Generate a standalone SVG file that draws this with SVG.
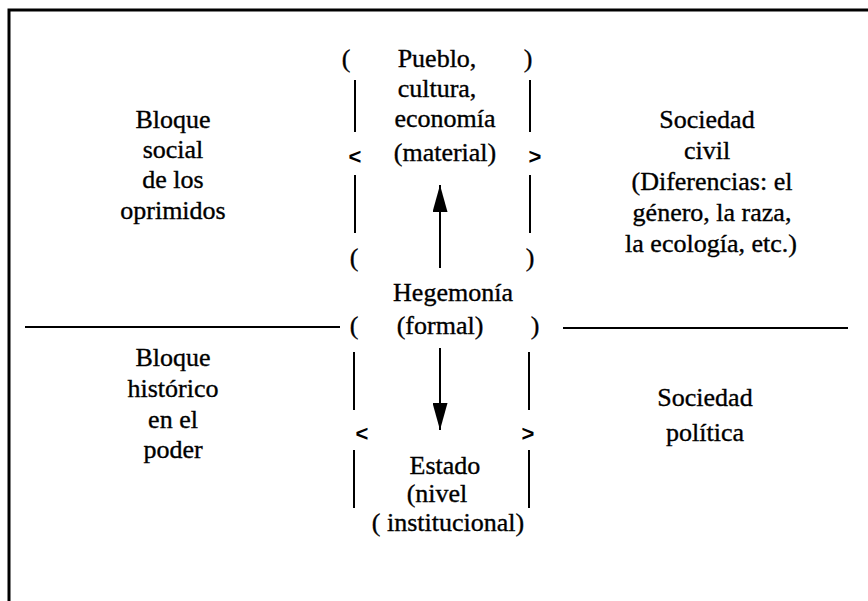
<svg xmlns="http://www.w3.org/2000/svg" width="868" height="601" viewBox="0 0 868 601">
<style>
.t{font-family:"Liberation Serif","Times New Roman",serif;font-size:26px;fill:#000;stroke:#000;stroke-width:0.35;text-anchor:middle}
.c{font-family:"Liberation Sans",Arial,sans-serif;font-size:22px;font-weight:bold;fill:#000;text-anchor:middle}
.b{stroke:#000;stroke-width:2;fill:none}
.f{stroke:#000;stroke-width:3;fill:none}
</style>
<defs>
<marker id="ah" viewBox="0 0 27 15" refX="27" refY="7.5" markerWidth="27" markerHeight="15" markerUnits="userSpaceOnUse" orient="auto">
<path d="M0,0 L27,7.5 L0,15 Z" fill="#000"/>
</marker>
</defs>
<g id="frame">
<path class="f" d="M9,601 V10 H868"/>
</g>
<g id="bloque-social">
<text class="t" x="173" y="128">Bloque</text>
<text class="t" x="173" y="158">social</text>
<text class="t" x="173" y="188">de los</text>
<text class="t" x="173" y="219">oprimidos</text>
</g>
<g id="bloque-historico">
<text class="t" x="173" y="366">Bloque</text>
<text class="t" x="173" y="397">histórico</text>
<text class="t" x="173" y="428">en el</text>
<text class="t" x="173" y="458">poder</text>
</g>
<g id="sociedad-civil">
<text class="t" x="707" y="128">Sociedad</text>
<text class="t" x="707" y="159">civil</text>
<text class="t" x="712" y="190">(Diferencias: el</text>
<text class="t" x="712" y="221">género, la raza,</text>
<text class="t" x="711" y="252">la ecología, etc.)</text>
</g>
<g id="sociedad-politica">
<text class="t" x="705" y="406">Sociedad</text>
<text class="t" x="705" y="441">política</text>
</g>
<g id="pueblo">
<text class="t" x="346" y="67">(</text>
<text class="t" x="528" y="67">)</text>
<text class="t" x="437" y="67">Pueblo,</text>
<text class="t" x="437" y="97">cultura,</text>
<text class="t" x="445" y="127">economía</text>
<text class="t" x="445" y="161">(material)</text>
<text class="c" x="355" y="164">&lt;</text>
<text class="c" x="535" y="164">&gt;</text>
<line class="b" x1="355" y1="80" x2="355" y2="132"/>
<line class="b" x1="530" y1="80" x2="530" y2="132"/>
<line class="b" x1="355" y1="175" x2="355" y2="233"/>
<line class="b" x1="530" y1="175" x2="530" y2="233"/>
<text class="t" x="354" y="266">(</text>
<text class="t" x="530" y="266">)</text>
</g>
<g id="hegemonia">
<text class="t" x="453" y="301">Hegemonía</text>
<text class="t" x="440" y="334">(formal)</text>
<text class="t" x="354" y="334">(</text>
<text class="t" x="535" y="334">)</text>
</g>
<g id="estado">
<line class="b" x1="354" y1="352" x2="354" y2="410"/>
<line class="b" x1="529" y1="352" x2="529" y2="410"/>
<text class="c" x="362" y="441">&lt;</text>
<text class="c" x="528" y="441">&gt;</text>
<line class="b" x1="354" y1="450" x2="354" y2="508"/>
<line class="b" x1="529" y1="450" x2="529" y2="508"/>
<text class="t" x="445" y="474">Estado</text>
<text class="t" x="437" y="502">(nivel</text>
<text class="t" x="448" y="531">( institucional)</text>
</g>
<g id="connectors">
<line class="b" x1="25" y1="327" x2="340" y2="327"/>
<line class="b" x1="563" y1="328" x2="848" y2="328"/>
<line class="b" x1="440" y1="268" x2="440" y2="185" marker-end="url(#ah)"/>
<line class="b" x1="440" y1="348" x2="440" y2="430" marker-end="url(#ah)"/>
</g>
</svg>
